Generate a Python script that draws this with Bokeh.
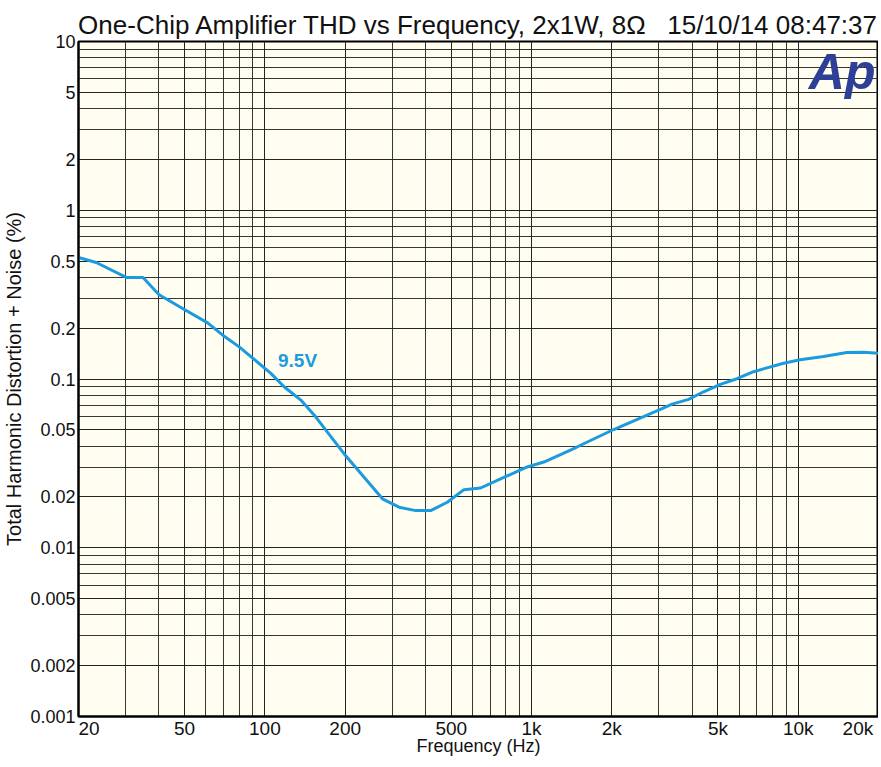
from bokeh.plotting import figure
from bokeh.models import FixedTicker, Label, Range1d
from bokeh.embed import file_html
from bokeh.resources import INLINE

# ---- data ----
freq_hz = [20, 23.3, 30.2, 34.9, 40.1, 49.9, 61, 70.4, 80.1, 90, 105.3, 118, 136.4, 155,
           198, 276, 318.5, 367.8, 418.6, 483, 557.8, 644, 765, 963, 1112, 1440, 1526,
           2033, 3040, 3364, 3881, 4418, 5103, 5890, 6802, 8810, 10170, 12440, 15210,
           17570, 20300]
thd_pct = [0.525, 0.49, 0.40, 0.40, 0.316, 0.258, 0.215, 0.179, 0.155, 0.133, 0.108, 0.090,
           0.075, 0.0597, 0.0361, 0.0195, 0.0174, 0.0166, 0.0166, 0.0186, 0.0221, 0.0226,
           0.0256, 0.0301, 0.0322, 0.0387, 0.0405, 0.0502, 0.066, 0.071, 0.0757, 0.084,
           0.093, 0.1004, 0.1105, 0.124, 0.130, 0.136, 0.1434, 0.144, 0.142]

x_ticks = [20, 50, 100, 200, 500, 1000, 2000, 5000, 10000, 20000]
x_tick_labels = ["20", "50", "100", "200", "500", "1k", "2k", "5k", "10k", "20k"]
y_ticks = [0.001, 0.002, 0.005, 0.01, 0.02, 0.05, 0.1, 0.2, 0.5, 1, 2, 5, 10]
y_tick_labels = ["0.001", "0.002", "0.005", "0.01", "0.02", "0.05", "0.1", "0.2", "0.5",
                 "1", "2", "5", "10"]
x_minor = [m * 10 ** e for e in range(1, 5) for m in range(1, 10)]
x_minor = [v for v in x_minor if 20 <= v <= 20000]
y_minor = [m * 10.0 ** e for e in range(-3, 1) for m in range(1, 10)] + [10]

NB = "\u00a0"
title_text = "One-Chip Amplifier THD vs Frequency, 2x1W, 8\u03a9" + NB * 3 + "15/10/14 08:47:37"
series_name = "9.5V"

CURVE = "#1a9be0"
FONT = "Liberation Sans"

p = figure(width=878, height=758, x_axis_type="log", y_axis_type="log",
           x_range=Range1d(20, 20000), y_range=Range1d(0.001, 10),
           output_backend="svg", toolbar_location=None,
           min_border_left=0, min_border_right=0, min_border_top=41, min_border_bottom=0)

p.title.text = title_text
p.title.align = "center"
p.title.text_font = FONT
p.title.text_font_size = "26px"
p.title.text_font_style = "normal"
p.title.text_color = "#111111"
p.title.standoff = 4

p.background_fill_color = "#fffef0"
p.border_fill_color = "white"
p.outline_line_color = "black"
p.outline_line_width = 2

# axes
p.xaxis.ticker = FixedTicker(ticks=x_ticks, minor_ticks=x_minor)
p.yaxis.ticker = FixedTicker(ticks=y_ticks, minor_ticks=y_minor)
xl = dict(zip(x_ticks, x_tick_labels))
xl[x_ticks[0]] = NB * 4 + x_tick_labels[0]
xl[x_ticks[-1]] = x_tick_labels[-1] + NB * 1
p.xaxis.major_label_overrides = xl
p.yaxis.major_label_overrides = dict(zip(y_ticks, y_tick_labels))
for ax in (p.xaxis, p.yaxis):
    ax.major_tick_in = 0
    ax.major_tick_out = 0
    ax.minor_tick_in = 0
    ax.minor_tick_out = 0
    ax.axis_line_color = "black"
    ax.axis_line_width = 2
    ax.major_label_text_color = "#111111"
    ax.axis_label_text_font_style = "normal"
    ax.axis_label_text_color = "#111111"
p.xaxis.major_label_text_font = FONT
p.xaxis.major_label_text_font_size = "19px"
p.yaxis.major_label_text_font = FONT
p.yaxis.major_label_text_font_size = "18px"
p.xaxis.axis_label_text_font = FONT
p.xaxis.axis_label_text_font_size = "18px"
p.yaxis.axis_label_text_font = FONT
p.yaxis.axis_label_text_font_size = "20px"
p.xaxis.major_label_standoff = 1
p.yaxis.major_label_standoff = 3
p.xaxis.axis_label = "Frequency (Hz)"
p.xaxis.axis_label_standoff = -6
p.yaxis.axis_label = "Total Harmonic Distortion + Noise (%)"
p.yaxis.axis_label_standoff = 2

# grid
for g in (p.xgrid, p.ygrid):
    g.grid_line_color = "#222222"
    g.grid_line_width = 1
    g.grid_line_alpha = 0.9
    g.minor_grid_line_color = "#222222"
    g.minor_grid_line_width = 1
    g.minor_grid_line_alpha = 0.9

p.line(freq_hz, thd_pct, line_color=CURVE, line_width=3)

p.add_layout(Label(x=112, y=0.112, text=series_name, text_font=FONT, text_font_style="bold",
                   text_font_size="19px", text_color=CURVE, text_baseline="bottom"))

# Ap logo
p.add_layout(Label(x=20000, y=10, text="Ap", text_align="right", text_baseline="top",
                   x_offset=-3, y_offset=-2, text_font=FONT, text_font_style="bold italic",
                   text_font_size="50px", text_color="#2e3f98"))

open("out.html", "w").write(file_html(p, INLINE))
